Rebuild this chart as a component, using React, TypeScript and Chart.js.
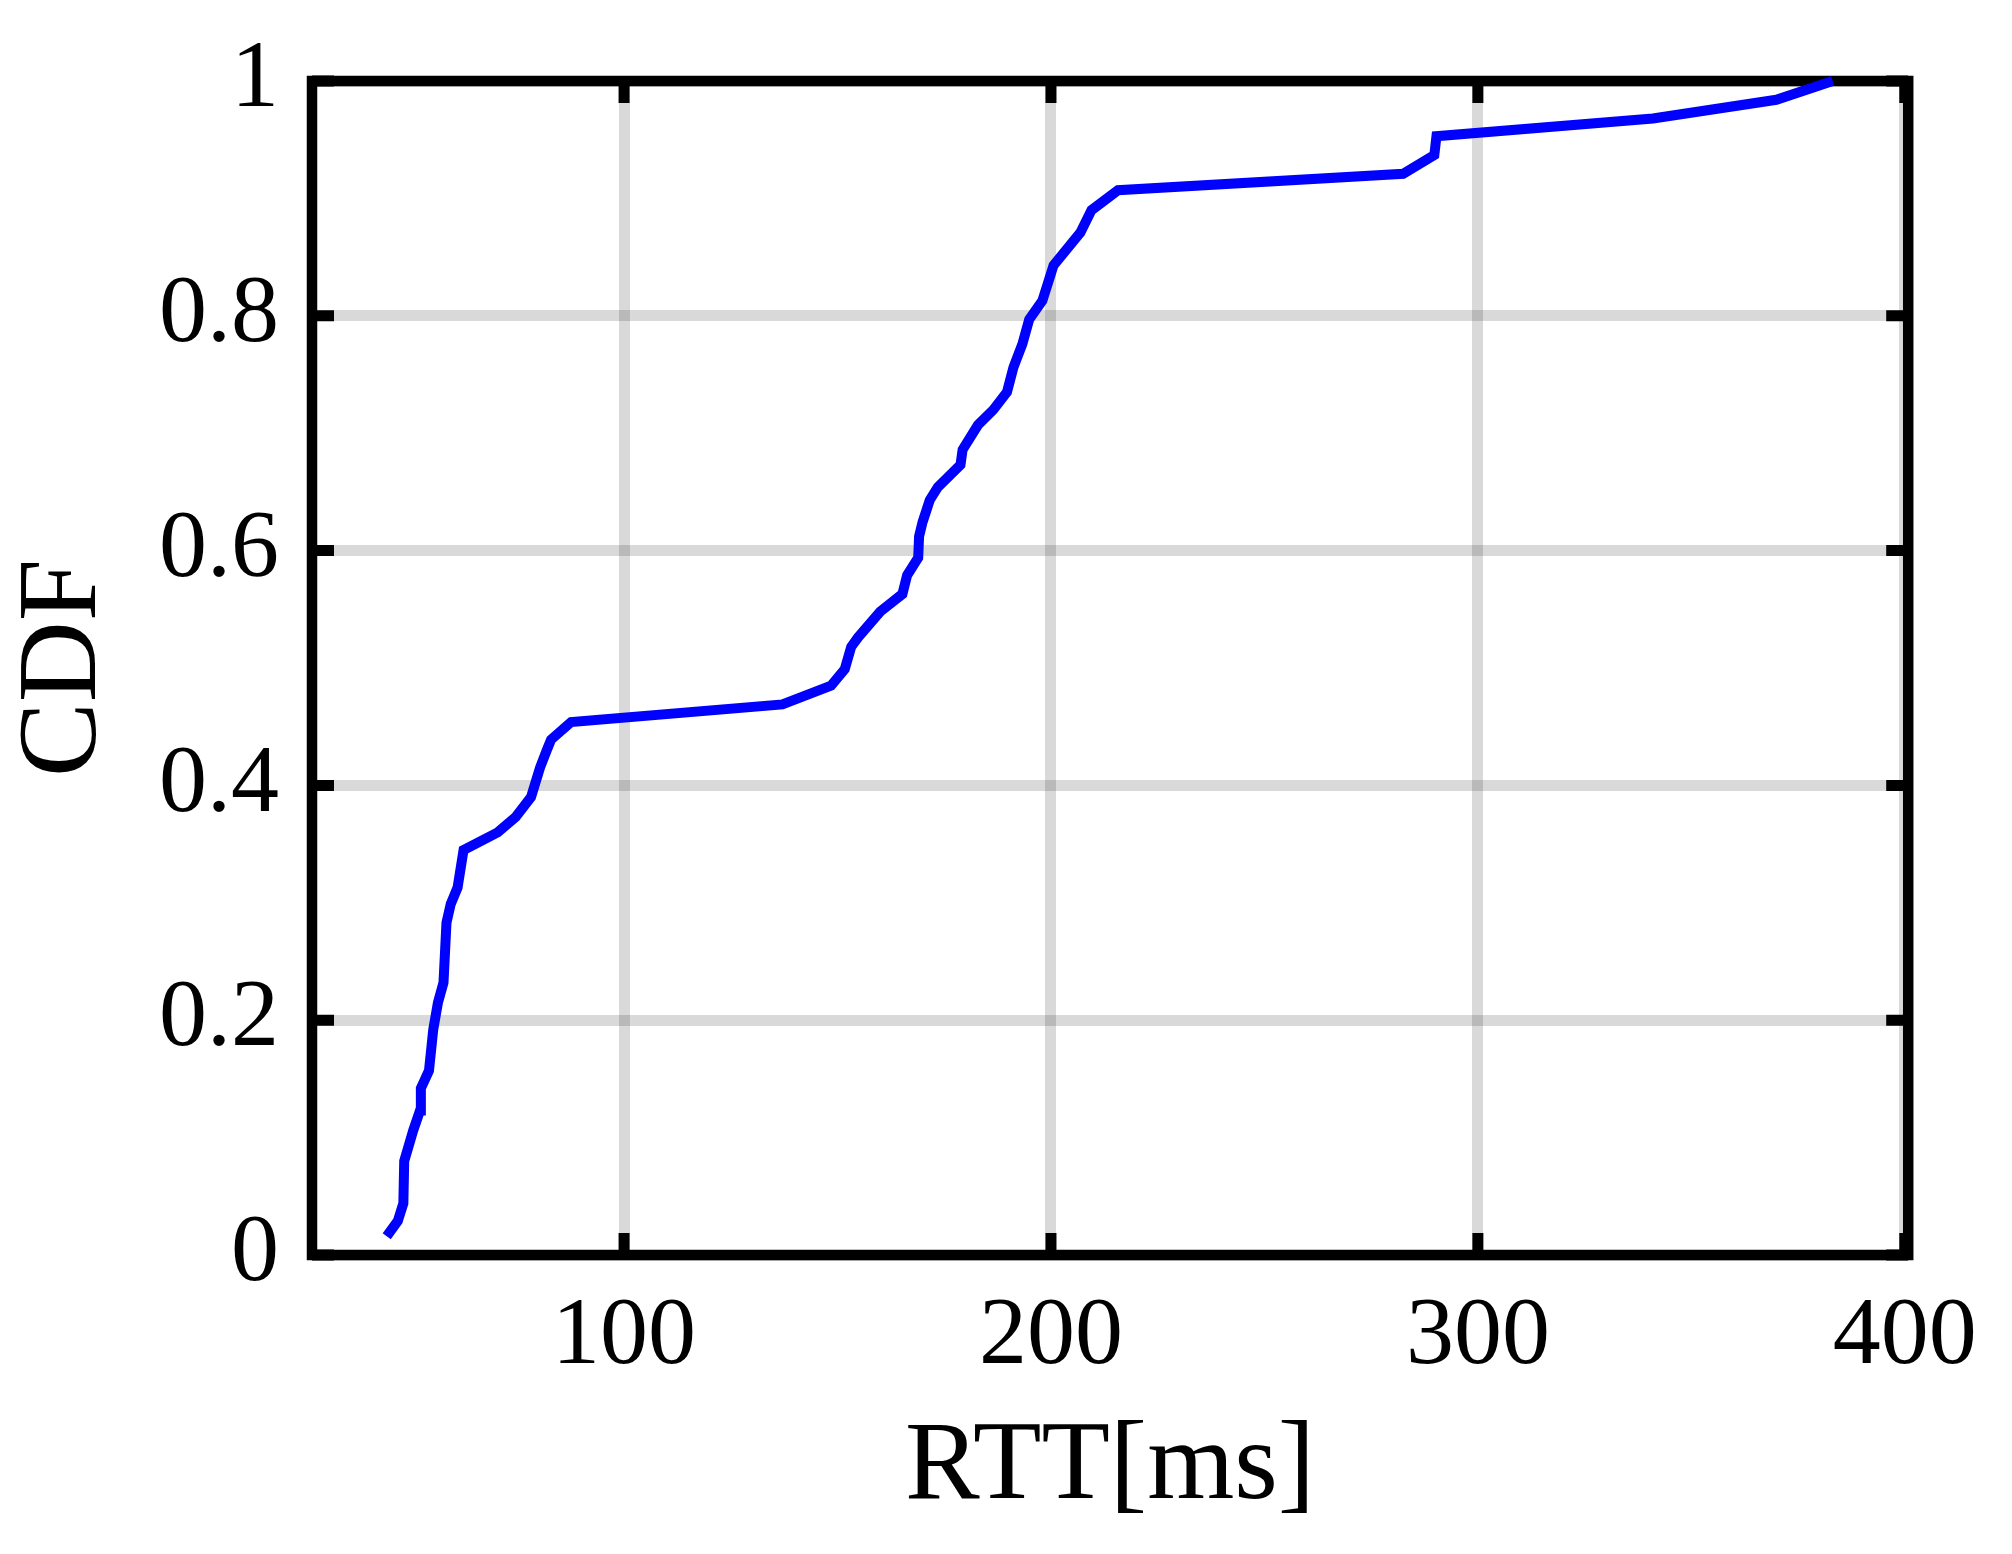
import React, { useEffect, useRef } from "react";
import { Chart, registerables } from "chart.js";

Chart.register(...registerables);

// RTT values (ms) of the empirical CDF curve
const rttMs = [
  44.4, 47.0, 48.3, 48.5, 50.6, 52.2, 52.4, 54.3, 55.3, 56.4, 57.7, 58.4, 59.4,
  61.0, 62.4, 70.4, 74.6, 78.2, 80.3, 81.9, 82.9, 87.6, 137.1, 148.5, 151.7,
  153.2, 154.8, 160.0, 165.2, 166.3, 168.9, 169.1, 169.9, 171.6, 173.5, 178.8,
  179.3, 182.9, 186.5, 189.7, 191.2, 193.3, 194.9, 198.0, 200.6, 206.9, 209.5,
  215.7, 282.5, 289.8, 290.3, 341.0, 369.9, 383.1,
];
// CDF values matching rttMs
const cdf = [
  0.016, 0.029, 0.044, 0.08, 0.106, 0.123, 0.142, 0.157, 0.192, 0.215, 0.232,
  0.283, 0.299, 0.313, 0.345, 0.36, 0.373, 0.39, 0.415, 0.43, 0.439, 0.454,
  0.469, 0.485, 0.499, 0.518, 0.526, 0.548, 0.563, 0.579, 0.594, 0.612, 0.624,
  0.643, 0.654, 0.673, 0.686, 0.707, 0.72, 0.735, 0.756, 0.776, 0.797, 0.813,
  0.843, 0.871, 0.89, 0.907, 0.921, 0.937, 0.953, 0.968, 0.984, 1.0,
];
const xTicks = [100, 200, 300, 400];
const yTicks = [0, 0.2, 0.4, 0.6, 0.8, 1];
const xRange = [26.9, 400.8];
const yRange = [0, 1];
const xTitle = "RTT[ms]";
const yTitle = "CDF";

const FONT = "'Liberation Serif', 'Times New Roman', serif";

const framePlugin = {
  id: "frameTicks",
  beforeDatasetsDraw(chart: any) {
    const { ctx, chartArea: a, scales } = chart;
    ctx.save();
    ctx.strokeStyle = "#000";
    ctx.lineCap = "butt";
    ctx.lineWidth = 11;
    const tl = 22;
    ctx.beginPath();
    for (const v of xTicks) {
      const px = scales.x.getPixelForValue(v);
      ctx.moveTo(px, a.bottom);
      ctx.lineTo(px, a.bottom - tl);
      ctx.moveTo(px, a.top);
      ctx.lineTo(px, a.top + tl);
    }
    for (const v of yTicks) {
      const py = scales.y.getPixelForValue(v);
      ctx.moveTo(a.left, py);
      ctx.lineTo(a.left + tl, py);
      ctx.moveTo(a.right, py);
      ctx.lineTo(a.right - tl, py);
    }
    ctx.stroke();
    ctx.lineWidth = 10.5;
    ctx.lineJoin = "miter";
    ctx.strokeRect(a.left, a.top, a.right - a.left, a.bottom - a.top);
    ctx.restore();
  },
};

export default function App() {
  const ref = useRef<HTMLCanvasElement | null>(null);

  useEffect(() => {
    document.body.style.margin = "0";
    const canvas = ref.current;
    if (!canvas) return;
    const points = rttMs.map((x, i) => ({ x, y: cdf[i] }));
    const chart = new Chart(canvas, {
      type: "line",
      data: {
        datasets: [
          {
            data: points,
            borderColor: "#0000ff",
            borderWidth: 10,
            pointRadius: 0,
            tension: 0,
            fill: false,
            clip: false as any,
          },
        ],
      },
      options: {
        animation: false,
        responsive: false,
        devicePixelRatio: 1,
        layout: { padding: { left: 0, right: 97, top: 74, bottom: 0 } },
        plugins: { legend: { display: false }, tooltip: { enabled: false } },
        scales: {
          x: {
            type: "linear",
            min: xRange[0],
            max: xRange[1],
            afterBuildTicks: (s: any) => {
              s.ticks = xTicks.map((v) => ({ value: v }));
            },
            afterFit: (s: any) => {
              s.height = 299;
            },
            grid: {
              color: "rgba(0,0,0,0.15)",
              lineWidth: 11,
              drawTicks: false,
            },
            border: { display: false },
            ticks: {
              color: "#000",
              padding: 35,
              maxRotation: 0,
              font: { family: FONT, size: 96, lineHeight: 1 },
              callback: (v: any) => String(v),
            },
            title: {
              display: true,
              text: xTitle,
              color: "#000",
              padding: { top: 0, bottom: 29 },
              font: { family: FONT, size: 112, lineHeight: 1 },
            },
          },
          y: {
            type: "linear",
            min: yRange[0],
            max: yRange[1],
            afterBuildTicks: (s: any) => {
              s.ticks = yTicks.map((v) => ({ value: v }));
            },
            afterFit: (s: any) => {
              s.width = 312;
            },
            grid: {
              color: "rgba(0,0,0,0.15)",
              lineWidth: 11,
              drawTicks: false,
            },
            border: { display: false },
            ticks: {
              color: "#000",
              padding: 33,
              font: { family: FONT, size: 96, lineHeight: 1 },
              callback: (v: any) => String(Number(Number(v).toFixed(1))),
            },
            title: {
              display: true,
              text: yTitle,
              color: "#000",
              padding: { top: 10, bottom: 0 },
              font: { family: FONT, size: 112, lineHeight: 1 },
            },
          },
        },
      },
      plugins: [framePlugin],
    });
    return () => chart.destroy();
  }, []);

  return (
    <div style={{ width: 2012, height: 1554, background: "#fff" }}>
      <canvas
        ref={ref}
        width={2012}
        height={1554}
        style={{ display: "block", width: 2012, height: 1554 }}
      />
    </div>
  );
}
